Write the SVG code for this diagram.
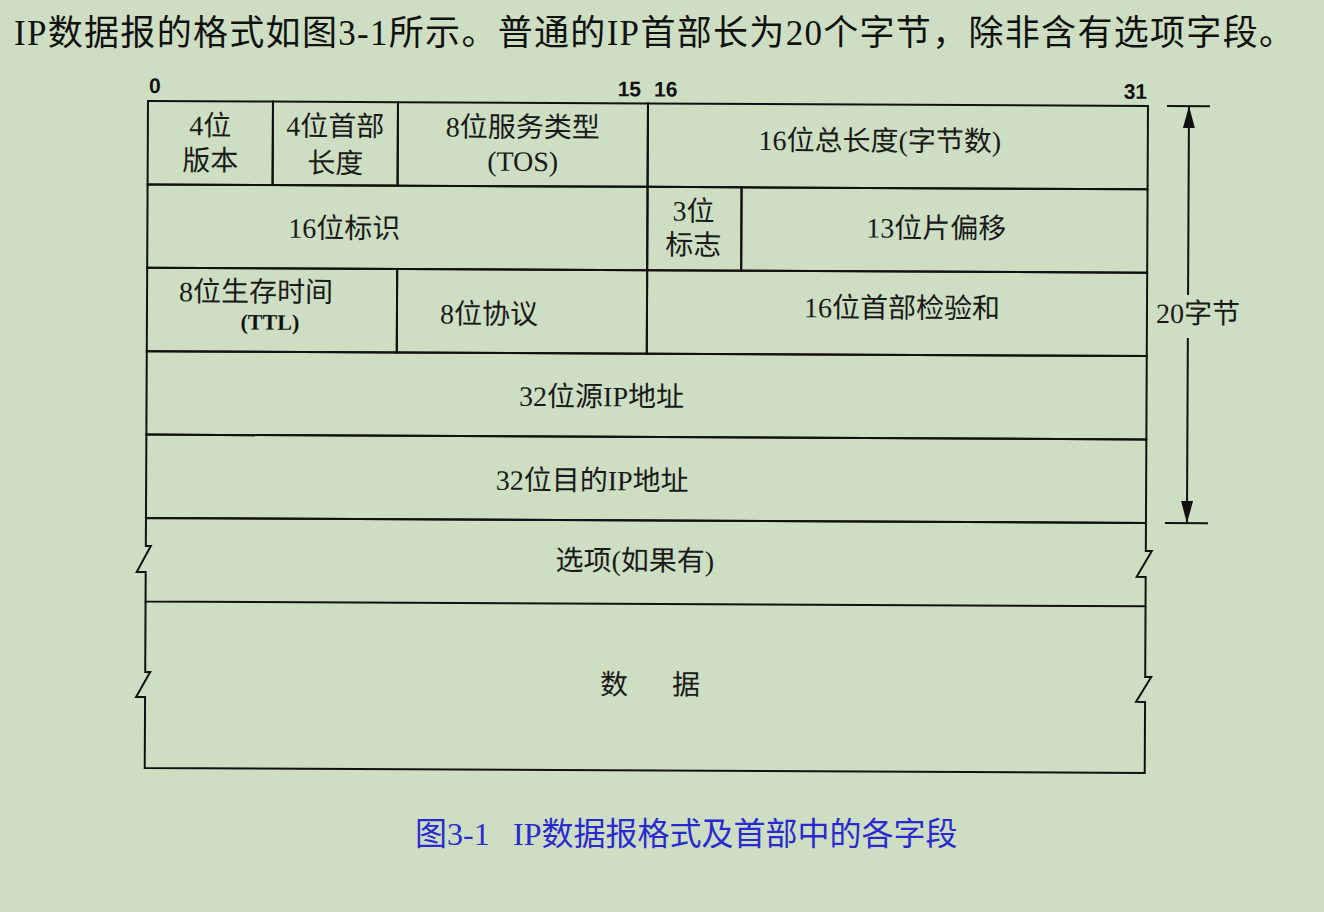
<svg xmlns="http://www.w3.org/2000/svg" width="1324" height="912" viewBox="0 0 1324 912">
<style>
.bg{fill:#cddec3}
.cell{fill:none;stroke:#111;stroke-width:2}
.lbl{font-family:"Liberation Serif","Noto Sans CJK SC",serif;font-size:28px;fill:#1a1a1a;text-anchor:middle}
.bit{font-family:"Liberation Sans",Arial,sans-serif;font-size:21px;font-weight:bold;fill:#111}
.ttl{font-family:"Liberation Serif","Noto Sans CJK SC",serif;font-size:22px;font-weight:bold;fill:#111;text-anchor:middle}
.dim{stroke:#111;stroke-width:2;fill:none}
.title{font-family:"Liberation Serif","Noto Sans CJK SC",serif;font-size:35px;fill:#111}
.cap{font-family:"Liberation Serif","Noto Sans CJK SC",serif;font-size:32px;fill:#2a2ad0}
</style>
<defs>
<marker id="arr" markerUnits="userSpaceOnUse" viewBox="0 0 22 12" refX="22" refY="6" markerWidth="22" markerHeight="12" orient="auto">
<path d="M0,0 L22,6 L0,12 z" fill="#111"/>
</marker>
</defs>
<rect class="bg" x="0" y="0" width="1324" height="912"/>
<text id="title" class="title" x="14" y="45" textLength="1280" lengthAdjust="spacing">IP数据报的格式如图3-1所示。普通的IP首部长为20个字节，除非含有选项字段。</text>
<g id="diagram" transform="rotate(0.28 148 101)">
<g id="bits">
<text class="bit" x="149" y="93">0</text>
<text class="bit" x="641" y="94" text-anchor="end">15</text>
<text class="bit" x="654" y="94">16</text>
<text class="bit" x="1147" y="94" text-anchor="end">31</text>
</g>
<g id="version"><rect class="cell" x="148" y="101" width="125" height="83.4"/><text class="lbl" x="210.5" y="135">4位</text><text class="lbl" x="210.5" y="170">版本</text></g>
<g id="ihl"><rect class="cell" x="273" y="101" width="125" height="83.4"/><text class="lbl" x="335.5" y="135">4位首部</text><text class="lbl" x="335.5" y="172">长度</text></g>
<g id="tos"><rect class="cell" x="398" y="101" width="250" height="83.4"/><text class="lbl" x="523" y="135">8位服务类型</text><text class="lbl" x="523" y="169">(TOS)</text></g>
<g id="total-length"><rect class="cell" x="648" y="101" width="500" height="83.4"/><text class="lbl" x="880" y="147">16位总长度(字节数)</text></g>
<g id="identification"><rect class="cell" x="148" y="184.4" width="500" height="83.4"/><text class="lbl" x="345" y="237">16位标识</text></g>
<g id="flags"><rect class="cell" x="648" y="184.4" width="94" height="83.4"/><text class="lbl" x="694" y="218">3位</text><text class="lbl" x="694" y="252">标志</text></g>
<g id="fragment-offset"><rect class="cell" x="742" y="184.4" width="406" height="83.4"/><text class="lbl" x="937" y="234">13位片偏移</text></g>
<g id="ttl"><rect class="cell" x="148" y="267.8" width="250" height="83.4"/><text class="lbl" x="257" y="301">8位生存时间</text><text class="ttl" x="271" y="329">(TTL)</text></g>
<g id="protocol"><rect class="cell" x="398" y="267.8" width="250" height="83.4"/><text class="lbl" x="490" y="322">8位协议</text></g>
<g id="checksum"><rect class="cell" x="648" y="267.8" width="500" height="83.4"/><text class="lbl" x="903" y="314">16位首部检验和</text></g>
<g id="src-ip"><rect class="cell" x="148" y="351.2" width="1000" height="83.4"/><text class="lbl" x="603" y="404">32位源IP地址</text></g>
<g id="dst-ip"><rect class="cell" x="148" y="434.6" width="1000" height="83.4"/><text class="lbl" x="594" y="488">32位目的IP地址</text></g>
<g id="options"><path class="cell" d="M148,518 V546 L153,546 L139,572 L148,572 V601.4 H1148 V572 L1139,572 L1154,546 L1148,546 V518 Z"/><text class="lbl" x="637" y="568">选项(如果有)</text></g>
<g id="data"><path class="cell" d="M148,601.4 V672 L153,672 L139,697 L148,697 V768 H1148 V697 L1139,697 L1154,672 L1148,672 V601.4"/><text class="lbl" y="692"><tspan x="617">数</tspan><tspan x="689">据</tspan></text></g>
<g id="connectors">
<path class="dim" d="M1167,101 H1210 M1167,518 H1210"/>
<line class="dim" x1="1189" y1="290" x2="1189" y2="101" marker-end="url(#arr)"/>
<line class="dim" x1="1189" y1="333" x2="1189" y2="518" marker-end="url(#arr)"/>
</g>
<g id="dim-label"><text class="lbl" x="1199" y="318">20字节</text></g>
</g>
<text id="caption" class="cap" y="845"><tspan x="415">图3-1</tspan><tspan x="513">IP数据报格式及首部中的各字段</tspan></text>
</svg>
